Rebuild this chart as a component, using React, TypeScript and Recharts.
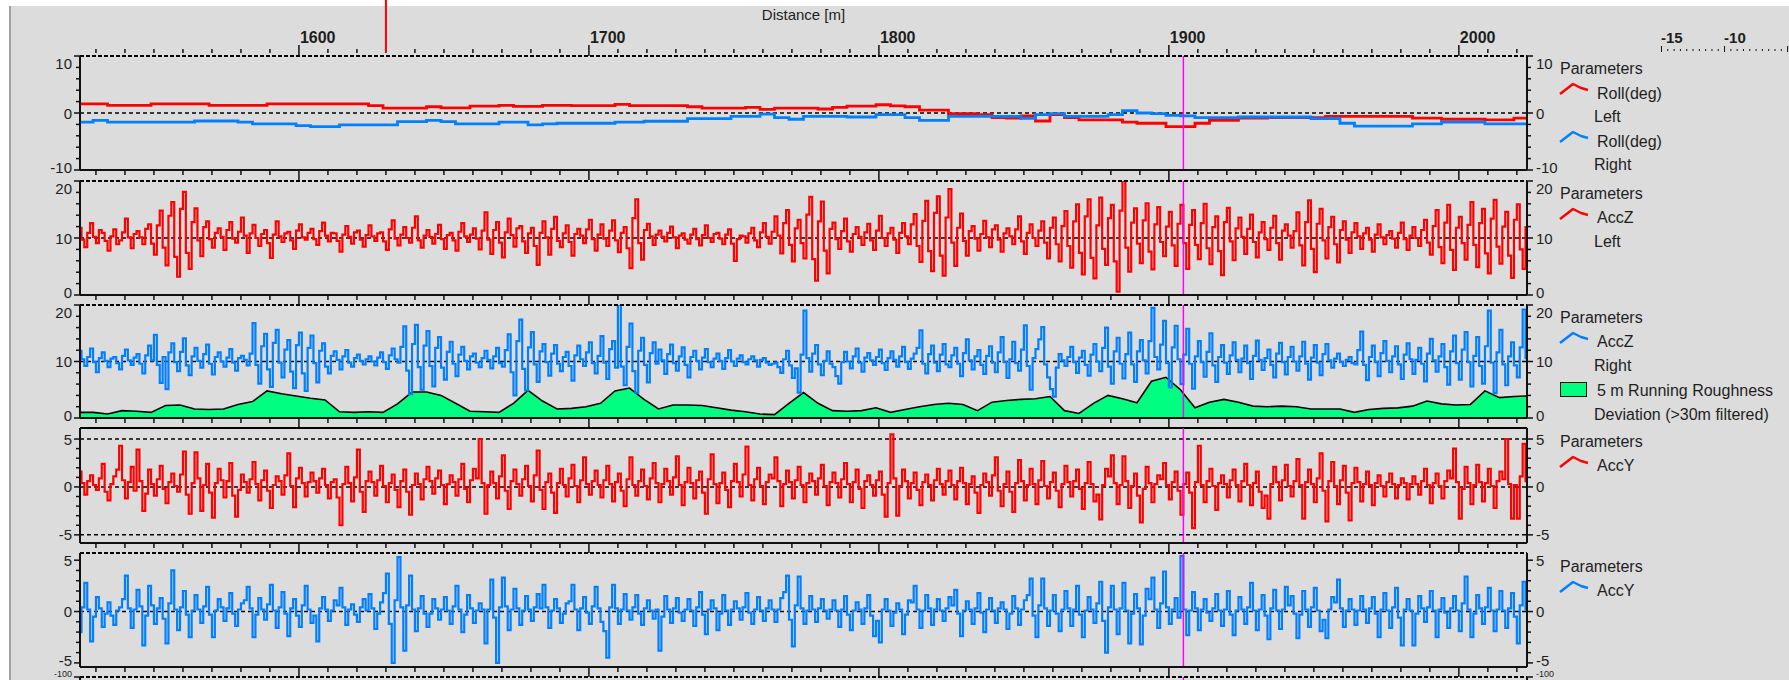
import React from 'react';
import { Area, ComposedChart, Line, ReferenceLine, XAxis, YAxis } from 'recharts';

const W = 1789;
const H = 680;
const PLOT_LEFT = 80;
const PLOT_RIGHT = 1527;
const FONT = '"Liberation Sans", Arial, sans-serif';
const BG = '#dcdcdc';
const AXIS = '#111';
const TEXT = '#1e1e1e';
const RED = '#ff0000';
const BLUE = '#0080ff';
const GREEN = '#00ff80';
const MAGENTA = '#ff00ff';

// sampling of the exported series along the track (m)
const SMOOTH_START = 1524;
const SMOOTH_STEP = 5;
const NOISE_START = 1524;
const NOISE_STEP = 1;

const X_DOMAIN: [number, number] = [1524.5, 2023.5];
const X_TICKS = [1530, 1540, 1550, 1560, 1570, 1580, 1590, 1600, 1610, 1620, 1630, 1640, 1650, 1660, 1670, 1680, 1690,
  1700, 1710, 1720, 1730, 1740, 1750, 1760, 1770, 1780, 1790, 1800, 1810, 1820, 1830, 1840, 1850, 1860, 1870, 1880,
  1890, 1900, 1910, 1920, 1930, 1940, 1950, 1960, 1970, 1980, 1990, 2000, 2010, 2020];
const X_LABELS = [1600, 1700, 1800, 1900, 2000];
const TOP_CURSOR = 1630;
const MAIN_CURSOR = 1905;

const RULER_TICKS = [-15, -14.5, -14, -13.5, -13, -12.5, -12, -11.5, -11, -10.5, -10, -9.5, -9, -8.5, -8, -7.5, -7,
  -6.5, -6, -5.5, -5];
const RULER_LABELS = [-15, -10];

const ROLL_TICKS = [-10, -8, -6, -4, -2, 0, 2, 4, 6, 8, 10];
const ROLL_LABELS = [-10, 0, 10];
const ACCZ_TICKS = [0, 2, 4, 6, 8, 10, 12, 14, 16, 18, 20];
const ACCZ_LABELS = [0, 10, 20];
const ACCY_TICKS = [-5, -4, -3, -2, -1, 0, 1, 2, 3, 4, 5];
const ACCY_LABELS = [-5, 0, 5];
const NEXT_TICKS = [-100];

// Roll (deg), every 5 m
const rollLeft = [
  1.6, 1.6, 1.35, 1.35, 1.35, 1.6, 1.6, 1.6, 1.6, 1.35,
  1.35, 1.35, 1.35, 1.6, 1.6, 1.6, 1.6, 1.6, 1.6, 1.6,
  1.3, 0.85, 0.85, 0.85, 1.1, 0.9, 0.9, 1.2, 1.2, 1.35,
  1.15, 1.15, 1.35, 1.35, 1.3, 1.3, 1.3, 1.5, 1.3, 1.3,
  1.3, 1.3, 1.1, 0.85, 0.85, 0.85, 1.0, 0.65, 0.85, 0.85,
  0.85, 0.7, 1.0, 1.2, 1.2, 1.45, 1.25, 1.1, 0.5, 0.5,
  -0.1, -0.1, -0.3, -0.8, -0.9, -0.5, -1.4, -0.3, -0.8, -1.2,
  -1.2, -1.2, -1.6, -1.8, -1.8, -2.4, -2.4, -1.8, -1.3, -1.3,
  -0.9, -0.9, -0.8, -0.8, -0.8, -0.8, -0.6, -0.6, -0.6, -0.6,
  -0.6, -0.6, -0.9, -0.9, -1.1, -1.1, -1.1, -1.2, -1.2, -0.9,
  -0.9,
];
const rollRight = [
  -1.6, -1.3, -1.6, -1.6, -1.6, -1.6, -1.6, -1.6, -1.4, -1.4,
  -1.4, -1.6, -1.9, -1.9, -1.9, -2.2, -2.4, -2.4, -2.1, -2.1,
  -2.1, -2.1, -1.5, -1.5, -1.3, -1.5, -1.9, -1.9, -1.9, -1.6,
  -1.6, -2.1, -1.9, -1.8, -1.8, -1.8, -1.8, -1.6, -1.6, -1.45,
  -1.45, -1.45, -1.0, -1.0, -1.0, -0.6, -0.6, -0.2, -0.8, -1.1,
  -0.6, -0.6, -0.6, -0.7, -0.7, -0.3, -0.3, -0.8, -1.3, -1.3,
  -0.6, -0.6, -0.6, -0.6, -0.6, -0.95, -0.3, -0.1, -0.6, -0.6,
  -0.6, -0.3, 0.4, 0.0, -0.1, -0.4, -0.5, -0.8, -0.8, -0.8,
  -0.7, -0.7, -0.7, -0.7, -0.7, -1.0, -1.0, -1.8, -2.3, -2.3,
  -2.3, -2.3, -1.9, -1.9, -1.6, -1.6, -1.6, -1.9, -1.9, -1.9,
  -1.9,
];

// AccZ left, every 1 m (20 m per row)
const accZLeft = [
  11.8, 9.7, 8.4, 10.9, 12.6, 10.2, 9.1, 11.4, 10.9, 9.5, 7.8, 10.3, 11.5, 8.9, 9.6, 11.0, 13.4, 10.1, 8.2, 10.7,
  11.2, 10.1, 8.9, 11.6, 12.4, 9.0, 7.1, 12.2, 14.8, 8.3, 5.2, 13.9, 16.3, 6.7, 3.2, 15.1, 18.1, 7.4, 4.6, 12.8,
  15.2, 9.6, 6.8, 11.9, 12.9, 9.8, 8.3, 10.9, 11.7, 10.2, 7.9, 11.4, 12.8, 9.9, 9.2, 11.1, 13.6, 10.4, 7.4, 10.8,
  12.3, 10.0, 8.6, 10.7, 11.4, 9.1, 6.5, 10.6, 12.9, 10.3, 9.3, 10.8, 11.1, 9.6, 8.1, 11.3, 12.4, 10.1, 9.7, 10.9,
  11.6, 9.8, 8.8, 11.2, 12.7, 10.4, 9.4, 10.9, 10.8, 9.5, 7.6, 10.6, 12.1, 10.2, 9.0, 11.0, 11.3, 9.7, 8.5, 10.5,
  12.2, 10.3, 9.5, 10.8, 11.0, 9.4, 7.9, 11.5, 13.1, 9.9, 8.7, 10.6, 11.9, 10.0, 9.2, 11.8, 13.8, 9.6, 8.3, 10.4,
  11.4, 10.2, 9.0, 10.7, 12.3, 9.8, 8.1, 10.5, 10.9, 9.6, 7.8, 11.1, 12.6, 10.3, 9.3, 10.6, 11.7, 9.9, 8.0, 11.3,
  14.5, 9.7, 7.2, 11.4, 12.8, 9.2, 6.6, 11.0, 13.4, 10.5, 8.5, 11.7, 12.1, 9.4, 7.4, 10.8, 11.8, 8.6, 5.3, 10.9,
  12.9, 10.1, 7.1, 11.6, 13.7, 9.5, 8.4, 10.8, 12.2, 9.3, 6.9, 10.7, 11.6, 10.4, 9.1, 11.5, 13.2, 9.8, 7.8, 10.6,
  12.4, 9.9, 8.6, 11.3, 13.1, 9.6, 7.5, 10.9, 11.9, 8.2, 4.7, 13.5, 16.8, 9.1, 6.2, 11.4, 12.5, 10.3, 8.8, 10.6,
  11.3, 10.2, 9.4, 10.9, 12.0, 10.1, 8.2, 10.4, 10.8, 9.7, 9.0, 10.6, 11.6, 9.8, 8.7, 10.5, 12.2, 10.0, 9.3, 10.7,
  10.9, 9.9, 8.9, 10.6, 11.5, 9.0, 6.0, 9.8, 10.4, 10.3, 9.2, 10.8, 11.8, 9.6, 8.4, 11.0, 12.6, 10.2, 9.0, 11.1,
  13.8, 10.4, 7.3, 12.6, 14.9, 8.8, 5.9, 11.7, 13.2, 9.1, 6.4, 14.1, 17.2, 6.3, 2.5, 12.9, 16.4, 7.8, 3.8, 11.6,
  12.7, 9.8, 8.1, 11.2, 13.4, 9.4, 7.6, 10.7, 11.9, 10.2, 8.8, 11.0, 12.5, 9.6, 7.9, 11.3, 13.9, 10.0, 8.6, 10.8,
  11.8, 9.7, 7.4, 10.9, 12.6, 10.3, 8.9, 12.4, 14.2, 8.6, 5.8, 13.0, 16.5, 7.7, 4.2, 14.4, 17.3, 6.9, 3.4, 13.6,
  18.6, 9.2, 5.1, 11.8, 14.3, 9.5, 6.9, 11.2, 12.1, 9.9, 7.8, 10.7, 13.0, 10.1, 8.4, 11.5, 12.2, 9.7, 7.6, 10.8,
  11.7, 10.3, 8.9, 11.5, 13.8, 9.4, 7.2, 10.9, 12.4, 10.0, 8.6, 11.3, 12.9, 9.2, 6.4, 11.8, 13.6, 8.9, 5.9, 12.1,
  14.7, 8.6, 4.8, 12.9, 15.9, 7.4, 3.6, 13.8, 16.8, 6.5, 2.9, 12.2, 17.1, 8.1, 5.3, 13.5, 15.8, 5.9, 0.6, 14.8,
  20.0, 8.3, 4.1, 12.7, 15.2, 9.0, 5.6, 13.1, 16.1, 7.6, 4.5, 12.4, 15.4, 9.3, 6.8, 12.0, 14.6, 8.7, 5.1, 12.5,
  15.8, 9.1, 4.6, 12.3, 14.9, 8.8, 6.3, 12.6, 16.0, 8.2, 5.4, 11.9, 13.8, 7.7, 3.5, 12.8, 15.3, 9.4, 6.1, 11.7,
  13.6, 10.2, 7.2, 11.6, 14.1, 9.3, 6.6, 11.0, 12.8, 9.8, 7.9, 11.8, 13.9, 9.1, 6.2, 11.3, 12.4, 10.4, 8.3, 11.2,
  14.5, 8.7, 5.2, 12.8, 16.6, 8.1, 4.0, 12.5, 15.1, 9.6, 6.4, 11.9, 13.7, 8.9, 5.7, 11.4, 12.9, 9.7, 7.4, 11.0,
  12.6, 10.3, 8.1, 10.8, 11.8, 9.7, 7.6, 10.6, 12.4, 10.1, 8.9, 10.5, 11.2, 9.9, 8.3, 10.9, 12.7, 9.8, 7.9, 10.4,
  11.9, 10.0, 8.6, 11.4, 13.2, 9.2, 7.1, 12.1, 14.9, 8.4, 5.6, 12.7, 15.8, 7.9, 4.4, 11.8, 13.7, 9.1, 6.2, 12.3,
  16.3, 8.8, 4.9, 12.6, 15.1, 7.3, 3.8, 13.4, 16.7, 8.5, 5.5, 12.0, 14.6, 6.9, 3.0, 13.2, 15.9, 8.0, 4.6, 11.9,
  13.4,
];

// AccZ right, every 1 m
const accZRight = [
  11.9, 10.4, 9.2, 10.8, 12.3, 9.9, 8.1, 10.6, 11.6, 10.1, 9.0, 10.5, 10.8, 9.7, 8.6, 11.0, 12.1, 10.2, 9.4, 10.7,
  11.3, 9.6, 7.9, 11.1, 12.8, 10.2, 14.7, 9.4, 6.2, 10.8, 5.1, 11.6, 13.2, 9.9, 8.3, 11.7, 14.1, 9.3, 7.6, 10.9,
  12.4, 10.1, 8.9, 11.3, 13.0, 9.6, 7.7, 10.8, 11.6, 10.0, 9.1, 10.7, 12.2, 9.8, 8.4, 10.6, 11.0, 10.3, 9.3, 11.4,
  16.8, 9.4, 6.1, 12.7, 14.9, 8.6, 5.5, 13.3, 15.6, 9.8, 7.2, 12.1, 13.8, 8.2, 5.3, 12.9, 15.1, 7.9, 4.8, 12.4,
  14.6, 9.7, 6.3, 11.9, 13.2, 9.1, 7.9, 11.0, 11.8, 10.3, 8.6, 10.9, 12.0, 9.8, 9.1, 10.6, 11.2, 10.1, 9.5, 10.4,
  10.9, 10.0, 9.3, 10.7, 11.6, 9.9, 8.7, 11.1, 12.3, 10.4, 9.8, 12.6, 16.2, 8.4, 4.2, 13.1, 16.5, 9.0, 5.0, 12.8,
  15.4, 9.2, 5.6, 12.4, 14.3, 8.9, 6.8, 11.7, 13.5, 9.6, 7.4, 11.2, 12.6, 10.1, 8.6, 10.9, 11.4, 9.8, 9.0, 10.6,
  11.9, 10.3, 8.8, 10.9, 12.4, 9.7, 9.1, 12.0, 14.8, 8.1, 4.0, 13.6, 17.4, 8.7, 4.9, 12.5, 15.2, 9.5, 6.4, 11.8,
  13.1, 9.9, 7.5, 11.4, 12.9, 9.6, 8.3, 10.8, 11.7, 9.2, 6.6, 11.1, 12.8, 10.4, 9.2, 11.6, 13.4, 9.7, 7.9, 11.0,
  14.5, 9.8, 6.9, 12.2, 13.6, 8.9, 20.0, 9.1, 5.8, 12.6, 16.7, 8.3, 4.5, 11.9, 14.2, 9.4, 6.3, 11.5, 13.4, 9.6,
  12.1, 10.2, 7.8, 11.3, 13.0, 9.7, 8.4, 10.9, 12.5, 9.4, 7.2, 10.8, 11.9, 10.1, 8.6, 10.7, 12.2, 9.9, 9.0, 10.5,
  11.4, 10.1, 8.7, 10.6, 12.0, 10.0, 9.2, 10.5, 11.1, 9.9, 9.5, 10.4, 10.9, 10.2, 9.1, 10.3, 10.6, 9.8, 9.4, 9.6,
  9.8, 9.0, 8.0, 10.4, 11.9, 9.3, 7.1, 8.8, 4.5, 11.2, 19.0, 10.6, 8.2, 11.4, 12.9, 9.5, 7.6, 10.1, 11.8, 9.6,
  9.0, 7.4, 6.1, 9.9, 11.7, 10.0, 8.8, 10.9, 12.3, 9.8, 8.2, 10.7, 11.5, 10.2, 9.4, 10.8, 12.1, 9.7, 8.5, 10.6,
  11.8, 10.3, 9.1, 10.9, 12.6, 9.9, 8.7, 10.5, 11.4, 12.4, 15.5, 9.6, 7.9, 11.3, 12.8, 9.8, 8.3, 11.2, 13.1, 9.5,
  9.0, 11.1, 12.4, 9.6, 7.4, 11.5, 13.9, 10.2, 8.6, 10.9, 12.0, 9.4, 7.8, 11.0, 12.7, 9.8, 8.1, 11.6, 14.3, 9.9,
  7.1, 10.4, 13.5, 9.7, 8.4, 12.1, 16.4, 9.2, 5.0, 10.6, 12.2, 13.9, 16.1, 9.5, 7.2, 5.1, 3.8, 8.9, 11.3, 10.2,
  9.2, 10.8, 12.6, 9.9, 8.0, 10.7, 11.9, 9.4, 7.5, 11.2, 13.1, 10.0, 8.3, 12.4, 16.0, 9.1, 6.1, 11.8, 14.2, 9.6,
  7.0, 11.3, 15.1, 9.5, 6.4, 11.8, 13.8, 10.2, 7.9, 13.6, 19.5, 10.8, 8.6, 13.0, 17.2, 9.7, 5.4, 12.5, 16.3, 10.4,
  6.0, 11.2, 15.8, 9.6, 5.2, 10.9, 13.6, 9.9, 7.3, 11.7, 15.0, 9.3, 6.4, 10.8, 12.9, 9.8, 7.8, 11.1, 13.4, 10.3,
  8.1, 10.5, 12.8, 9.7, 6.9, 11.0, 13.7, 10.3, 8.5, 10.6, 12.1, 9.4, 7.2, 11.4, 13.3, 9.9, 7.7, 10.8, 12.6, 10.0,
  8.4, 10.9, 13.5, 9.6, 6.8, 10.7, 12.9, 9.8, 7.6, 11.3, 13.1, 10.2, 8.9, 10.5, 11.4, 9.9, 9.2, 10.3, 10.8, 9.7,
  9.5, 12.0, 15.3, 9.4, 6.7, 10.8, 12.8, 9.9, 7.4, 11.5, 13.6, 10.1, 8.1, 10.9, 12.7, 9.5, 6.9, 11.2, 13.2, 10.4,
  7.8, 10.3, 12.4, 9.6, 6.5, 11.4, 14.0, 10.2, 8.2, 10.9, 13.1, 9.0, 5.9, 11.8, 14.6, 9.7, 6.8, 12.1, 15.2, 9.9,
  5.6, 11.0, 14.3, 9.2, 6.1, 12.7, 19.0, 9.8, 4.4, 11.6, 15.6, 9.5, 5.8, 10.9, 13.4, 9.3, 7.2, 12.5, 19.2, 10.6,
  5.6,
];

// 5 m running roughness deviation, every 5 m
const roughness = [
  1.0, 1.0, 0.7, 1.3, 1.2, 1.0, 2.2, 2.3, 1.6, 1.5,
  1.6, 2.4, 2.9, 4.8, 4.3, 3.9, 3.5, 3.2, 1.1, 1.0,
  1.1, 1.0, 2.5, 4.6, 4.6, 4.0, 2.6, 1.2, 1.1, 1.0,
  2.6, 4.9, 3.0, 1.6, 1.7, 2.0, 2.6, 4.8, 5.3, 3.3,
  1.6, 2.3, 2.3, 2.2, 1.8, 1.4, 1.1, 0.7, 0.6, 2.6,
  4.5, 2.6, 1.3, 1.2, 1.3, 1.8, 1.0, 1.5, 2.0, 2.4,
  2.6, 2.4, 1.3, 2.8, 3.1, 3.3, 3.4, 3.8, 1.3, 0.8,
  2.6, 4.0, 3.4, 2.7, 6.5, 7.2, 5.0, 1.8, 2.8, 3.3,
  2.8, 2.1, 2.0, 2.1, 2.0, 1.6, 1.6, 1.6, 1.0, 1.5,
  1.7, 1.8, 2.1, 3.0, 2.5, 2.3, 2.4, 4.8, 3.6, 3.8,
  3.9,
];

// AccY left, every 1 m
const accYLeft = [
  1.6, 0.4, -0.8, 0.6, 1.2, 0.2, -0.3, 0.9, 2.4, -0.5, -1.4, 0.3, 1.1, 1.8, 4.3, 0.7, -1.2, 0.5, 2.1, -0.4,
  3.9, 0.6, -2.5, -0.7, 1.8, 0.3, -0.9, 0.8, 2.2, -0.2, -1.7, 0.5, 1.4, 0.1, -0.5, 1.3, 3.7, -0.8, -2.8, 0.4,
  3.6, 0.9, -2.5, 0.2, 2.4, -0.6, -3.2, 0.4, 1.9, 0.7, -1.1, 0.6, 2.5, -0.9, -3.1, -0.3, 1.3, 0.5, -0.6, 0.8,
  2.6, 0.3, -1.4, 0.7, 1.7, -0.4, -2.2, 0.2, 1.1, 0.6, -0.8, 1.2, 3.5, 0.1, -2.1, 0.9, 2.0, 0.4, -1.0, 0.5,
  1.5, 0.6, -0.6, 0.9, 1.9, 0.2, -1.2, 0.5, 0.8, -1.1, -4.0, 0.3, 2.1, 0.4, -1.5, 1.0, 3.9, -0.5, -2.6, 0.6,
  1.6, 0.5, -0.9, 0.7, 2.2, 0.1, -1.6, 0.4, 1.3, -0.3, -2.1, 0.6, 1.8, -0.5, -2.9, 0.2, 1.4, 0.3, -1.3, 0.8,
  2.1, 0.6, -0.7, 0.9, 1.7, 0.2, -1.8, 0.3, 1.2, 0.5, -0.9, 0.8, 2.4, -0.2, -1.6, 0.7, 1.9, 0.9, 5.0, 0.4,
  -2.8, 0.2, 1.6, 0.4, -1.2, 1.1, 3.3, -0.4, -2.3, 0.6, 1.8, 0.3, -0.9, 0.8, 2.2, 0.1, -1.5, 1.2, 3.8, -0.3,
  -2.3, 0.5, 1.4, -0.6, -2.7, 0.4, 1.9, 0.2, -1.0, 0.9, 2.3, 0.1, -1.6, 0.7, 3.1, 0.3, -0.8, 0.6, 1.7, 0.2,
  -1.1, 0.7, 2.2, 0.3, -1.5, 0.5, 1.4, -0.4, -2.0, 0.8, 3.1, 0.2, -0.9, 0.6, 1.8, 0.1, -1.3, 0.9, 2.5, 0.4,
  -1.6, 0.3, 1.9, 0.6, -0.8, 1.0, 3.2, 0.2, -1.9, 0.5, 2.0, 0.4, -1.2, 0.7, 1.6, -0.6, -2.8, 0.8, 3.4, 0.3,
  -1.7, 0.4, 1.5, -0.3, -2.1, 0.6, 2.4, 0.5, -1.0, 1.3, 4.2, 0.2, -1.4, 0.8, 2.0, 0.1, -1.8, 0.5, 1.3, 0.9,
  3.1, 0.6, -2.0, 0.3, 1.7, 0.5, -1.2, 0.7, 2.1, 0.2, -1.6, 0.4, 1.4, 0.6, -0.8, 0.9, 2.3, 0.1, -1.9, 0.5,
  1.5, 0.4, -1.1, 0.8, 2.5, 0.3, -1.6, 0.5, 1.8, -0.2, -2.2, 0.6, 1.2, 0.2, -0.9, 0.7, 1.6, -0.8, -3.1, 0.4,
  5.5, 0.9, -3.0, 0.1, 1.8, 0.6, -1.2, 0.4, 1.5, -0.3, -1.9, 0.5, 1.3, 0.2, -1.4, 0.7, 1.9, 0.3, -0.8, 0.6,
  1.7, 0.2, -1.3, 0.6, 2.0, 0.4, -1.8, 0.3, 1.1, -0.6, -2.7, 0.2, 1.4, 0.5, -0.9, 1.2, 3.1, -0.4, -2.0, 0.3,
  1.6, -0.5, -2.6, 0.4, 2.8, 0.6, -1.4, 0.2, 1.9, 0.3, -1.8, 0.7, 2.7, 0.1, -1.2, 0.5, 1.5, -0.4, -2.1, 0.3,
  2.2, 0.5, -1.0, 0.6, 1.8, -0.2, -2.3, 0.4, 2.6, 0.3, -1.5, -0.8, -3.4, 0.2, 1.9, 1.1, 3.3, 0.4, -1.8, 0.2,
  3.2, 0.6, -2.2, 0.1, 1.4, -0.9, -3.7, -0.2, 2.1, 0.4, -1.6, 0.3, 1.2, 0.8, 2.5, 0.2, -1.3, 0.5, 1.6, -0.4,
  -2.9, 0.3, 1.5, -0.6, -4.3, 0.5, 4.3, 0.2, -1.6, 0.6, 1.9, 0.1, -2.4, 0.4, 1.2, 0.3, -1.1, 0.7, 1.8, 0.2,
  -1.5, 0.6, 2.4, 0.2, -1.9, 0.4, 1.6, -0.5, -2.2, -0.9, -3.3, 0.3, 2.1, 0.5, -1.4, 0.7, 2.3, 0.1, -1.0, 0.6,
  2.9, 0.2, -3.3, 0.5, 1.8, 0.3, -1.6, 0.9, 3.5, -0.4, -3.6, 0.6, 2.6, 0.1, -1.8, 0.7, 2.2, -0.6, -3.5, 0.4,
  2.0, 0.5, -1.5, 0.3, 1.6, 0.2, -1.9, 0.4, 1.2, 0.1, -1.0, 0.5, 1.4, 0.3, -1.2, 0.2, 0.9, 0.4, -1.3, 0.3,
  1.1, 0.3, -0.8, 0.6, 1.9, 0.2, -1.7, 0.4, 1.4, 0.1, -1.2, 0.6, 1.7, 0.9, 4.0, 0.5, -3.3, -0.2, 2.1, 0.4,
  -1.8, 0.2, 2.3, 0.5, -1.5, 0.4, 1.9, 0.1, -2.2, 0.6, 1.6, 0.8, 5.0, 0.3, -3.3, 0.2, -3.3, 1.1, 4.5, 0.6,
  1.0,
];

// AccY right, every 1 m
const accYRight = [
  -2.0, 0.4, 2.8, 0.2, -2.9, -0.5, 1.4, 0.3, -1.5, -0.2, 0.9, -0.4, -1.3, 0.1, 0.4, 1.2, 3.5, 0.3, -1.6, 0.2,
  2.1, 0.5, -3.3, -0.4, 2.5, 0.6, -1.2, 0.3, 1.3, -0.7, -3.1, 0.8, 4.0, 0.2, -1.8, 0.4, 2.0, -0.3, -2.5, 0.1,
  1.6, 0.2, -1.1, 0.5, 2.4, -0.3, -2.5, 0.1, 1.2, 0.4, -0.9, 0.3, 1.8, -0.2, -1.4, 0.2, 0.8, 1.1, 2.4, 0.3,
  -2.5, -0.3, 1.3, 0.2, -0.8, 0.7, 2.6, 0.1, -1.6, 0.4, 1.9, -0.2, -2.4, 0.3, 1.2, -0.4, -1.5, 0.6, 2.5, 0.2,
  -1.1, -0.4, -2.9, 0.3, 1.4, 0.2, -0.9, 0.1, 1.1, 0.6, 2.3, 0.4, -1.3, 0.2, 0.7, -0.3, -1.0, 0.4, 1.2, 0.1,
  1.7, 0.3, -1.7, -0.2, 0.9, 1.8, 3.7, -1.2, -5.0, 1.1, 5.3, 0.4, -3.8, 0.6, 3.5, 0.2, -1.9, 0.3, 1.5, -0.2,
  -1.5, -0.2, 1.2, 0.3, -0.8, 0.2, 1.4, 0.1, -1.2, 0.5, 2.5, 0.2, -2.0, -0.3, 1.6, 0.3, -1.1, 0.1, 0.8, 0.2,
  -3.1, 0.2, 3.1, -0.6, -5.0, 0.4, 3.3, 0.5, -1.8, 0.2, 2.2, 0.3, -1.3, 0.1, 1.5, 0.2, -0.9, 0.4, 1.7, 0.3,
  2.6, 0.4, -1.6, 0.1, 1.2, 0.3, -1.1, -0.2, 0.8, 1.0, 2.6, 0.2, -1.8, 0.3, 1.4, -0.1, -1.2, 0.5, 2.4, 0.3,
  -1.0, -1.9, -4.5, 0.4, 2.6, 0.3, -1.2, 0.2, 1.7, 0.1, -0.8, 0.4, 1.6, -0.2, -1.3, 0.3, 1.1, 0.1, -0.7, 0.2,
  -3.8, -0.5, 1.5, 0.2, -1.1, 0.3, 1.3, -0.1, -0.9, 0.2, 1.2, 0.1, -1.4, 0.4, 1.9, -0.3, -2.2, 0.2, 1.1, 0.3,
  -1.8, -0.2, 1.6, 0.1, -1.3, 0.2, 1.0, 0.3, -0.8, 0.4, 1.8, -0.1, -1.2, 0.2, 1.4, 0.1, -0.9, 0.3, 1.1, 0.2,
  -1.0, 0.2, 1.3, 1.9, 3.5, -0.8, -3.4, 0.6, 3.4, 0.3, -1.2, 0.1, 1.5, 0.2, -1.0, 0.3, 1.2, 0.1, -0.7, 0.2,
  1.1, 0.1, -1.5, 0.2, 1.5, -0.3, -1.8, 0.1, 0.9, 0.2, -1.2, 0.3, 1.6, -0.4, -2.4, -0.9, -3.0, 0.2, 1.2, 0.1,
  -1.4, -0.1, 0.8, 0.2, -2.2, -0.3, 1.1, 0.9, 2.5, 0.2, -1.6, 0.1, 1.6, 0.3, -1.3, 0.2, 1.2, 0.1, -0.9, 0.3,
  1.4, 0.6, 2.1, -0.2, -2.4, 0.1, 1.0, 0.2, -1.2, 0.3, 1.8, -0.1, -2.0, 0.2, 1.3, 0.1, -1.1, 0.3, 0.9, 0.2,
  -1.7, -0.2, 1.5, 0.3, -1.3, 0.2, 1.1, 1.6, 3.2, -0.4, -2.5, 0.6, 3.2, 0.3, -1.4, 0.1, 1.6, -0.2, -1.9, 0.2,
  2.0, 0.3, -1.4, 0.2, 2.5, -0.3, -2.5, 0.1, 1.4, 0.2, -1.1, 0.8, 2.9, -0.9, -4.0, 0.4, 2.5, 0.2, -2.2, 0.3,
  2.8, 0.1, -3.1, -0.2, 1.7, 0.3, -3.2, -0.4, 2.2, 1.2, 3.3, 0.2, -1.6, 0.8, 3.9, 0.4, -1.2, 0.2, 1.3, -0.6,
  5.4, 0.2, -2.3, 0.1, 1.9, 0.3, -1.8, 0.2, 1.2, -0.1, -0.9, 0.3, 1.7, 0.1, -1.4, 0.2, 2.0, -0.3, -2.3, 0.1,
  1.4, 0.2, -1.2, 0.4, 2.8, 0.1, -1.8, 0.2, 1.6, -0.4, -2.7, 0.3, 2.1, 0.1, -1.7, 0.2, 2.4, 0.6, 1.5, -0.2,
  -2.6, -0.3, 2.0, 0.2, -1.5, 0.4, 2.3, 0.1, -1.9, -0.8, -2.6, 0.2, 1.4, 0.9, 3.1, 0.3, -1.5, 0.1, 1.2, 0.2,
  -1.3, 0.1, 1.5, 0.2, -1.1, 0.3, 1.4, -0.2, -2.5, 0.2, 1.8, 0.1, -1.6, 0.4, 2.3, -0.6, -3.3, 0.2, 1.2, 0.1,
  -3.3, -0.2, 1.5, 0.3, -1.0, 0.4, 2.0, 0.1, -2.5, 0.2, 1.3, -0.1, -1.6, 0.3, 1.5, 0.1, -1.9, 0.8, 3.4, 0.2,
  -2.5, -0.2, 1.6, 0.3, -1.2, 0.4, 2.3, 0.1, -1.9, 0.2, 2.0, 0.1, -1.6, 0.3, 1.8, -0.5, -3.1, 0.6, 2.9, 0.2,
  -1.5,
];

const rollRows = rollLeft.map((v, i) => ({ d: SMOOTH_START + i * SMOOTH_STEP, left: v, right: rollRight[i] }));
const accZLeftRows = accZLeft.map((v, i) => ({ d: NOISE_START + i * NOISE_STEP, v }));
const accZRightRows = [
  ...accZRight.map((v, i) => ({ d: NOISE_START + i * NOISE_STEP, acc: v })),
  ...roughness.map((v, i) => ({ d: SMOOTH_START + i * SMOOTH_STEP, rough: v })),
].sort((a, b) => a.d - b.d);
const accYLeftRows = accYLeft.map((v, i) => ({ d: NOISE_START + i * NOISE_STEP, v }));
const accYRightRows = accYRight.map((v, i) => ({ d: NOISE_START + i * NOISE_STEP, v }));
const rulerRows = RULER_TICKS.map((t) => ({ t }));

type PanelProps = {
  top: number;
  height: number;
  domain: [number, number];
  yTicks: number[];
  yLabels: number[];
  data: any[];
  dashed?: number[];
  topDashed?: boolean;
  topAxis?: boolean;
  pad?: number;
  labelTop?: number;
  labelBottom?: number;
  labelShift?: number;
  labelSize?: number;
  children?: React.ReactNode;
};

function Panel({
  top, height, domain, yTicks, yLabels, data, dashed = [], topDashed = true, topAxis = false, pad = 2,
  labelTop = 7, labelBottom = 3, labelShift = 0, labelSize = 15, children,
}: PanelProps) {
  const head = topAxis ? 50 : pad;
  const plotBottom = head + height;
  const labelY = (y: number) => Math.min(Math.max(y + labelShift, head + labelTop), plotBottom - labelBottom);

  const leftTick = (p: any) => {
    const v = p.payload.value;
    const major = yLabels.includes(v);
    return (
      <g>
        <line x1={p.x - (major ? 6 : 4)} x2={p.x} y1={p.y} y2={p.y} stroke={AXIS} strokeWidth={1.5} />
        {major && (
          <text x={p.x - 8} y={labelY(p.y)} textAnchor="end" dominantBaseline="central" fontSize={labelSize} fontFamily={FONT} fill={TEXT}>
            {v}
          </text>
        )}
      </g>
    );
  };
  const rightTick = (p: any) => {
    const v = p.payload.value;
    const major = yLabels.includes(v);
    return (
      <g>
        <line x1={p.x} x2={p.x + (major ? 6 : 4)} y1={p.y} y2={p.y} stroke={AXIS} strokeWidth={1.5} />
        {major && (
          <text x={p.x + 9} y={labelY(p.y)} textAnchor="start" dominantBaseline="central" fontSize={labelSize} fontFamily={FONT} fill={TEXT}>
            {v}
          </text>
        )}
      </g>
    );
  };
  const bottomTick = (p: any) => {
    const major = p.payload.value % 100 === 0;
    return <line x1={p.x} x2={p.x} y1={p.y} y2={p.y + (major ? 10 : 5)} stroke={AXIS} strokeWidth={1.5} />;
  };
  const topTick = (p: any) => {
    const v = p.payload.value;
    const major = X_LABELS.includes(v);
    return (
      <g>
        <line x1={p.x} x2={p.x} y1={major ? p.y : p.y - 3} y2={p.y - (major ? 11 : 7)} stroke={AXIS} strokeWidth={1.5} />
        {major && (
          <text x={p.x + 1} y={p.y - 13} textAnchor="start" fontSize={16} fontWeight="bold" fontFamily={FONT} fill={TEXT}>
            {v}
          </text>
        )}
      </g>
    );
  };

  return (
    <div style={{ position: 'absolute', left: 0, top: top - head }}>
      <ComposedChart
        width={W}
        height={head + height + 12}
        data={data}
        margin={{ top: topAxis ? 0 : head, right: W - PLOT_RIGHT - 40, bottom: 0, left: PLOT_LEFT - 50 }}
      >
        <XAxis
          dataKey="d"
          type="number"
          domain={X_DOMAIN}
          allowDataOverflow
          ticks={X_TICKS}
          interval={0}
          height={12}
          tickSize={0}
          tickMargin={0}
          tickLine={false}
          axisLine={{ stroke: AXIS, strokeWidth: 2 }}
          tick={bottomTick}
        />
        {topAxis && (
          <XAxis
            xAxisId="top"
            orientation="top"
            dataKey="d"
            type="number"
            domain={X_DOMAIN}
            allowDataOverflow
            ticks={X_TICKS}
            interval={0}
            height={50}
            tickSize={0}
            tickMargin={0}
            tickLine={false}
            axisLine={false}
            tick={topTick}
            label={{ value: 'Distance [m]', position: 'insideTop', offset: 3, fontSize: 15, fill: TEXT, fontFamily: FONT }}
          />
        )}
        <YAxis
          yAxisId="l"
          type="number"
          domain={domain}
          allowDataOverflow
          ticks={yTicks}
          interval={0}
          width={50}
          tickSize={0}
          tickMargin={0}
          tickLine={false}
          axisLine={{ stroke: AXIS, strokeWidth: 2 }}
          tick={leftTick}
        />
        <YAxis
          yAxisId="r"
          orientation="right"
          type="number"
          domain={domain}
          allowDataOverflow
          ticks={yTicks}
          interval={0}
          width={40}
          tickSize={0}
          tickMargin={0}
          tickLine={false}
          axisLine={{ stroke: AXIS, strokeWidth: 2 }}
          tick={rightTick}
        />
        {dashed.map((v) => (
          <ReferenceLine key={v} yAxisId="l" y={v} stroke="#000" strokeWidth={1.5} strokeDasharray="4 3" />
        ))}
        {children}
        <ReferenceLine yAxisId="l" y={domain[1]} stroke="#000" strokeWidth={2} strokeDasharray={topDashed ? '4 2' : undefined} />
        <ReferenceLine yAxisId="l" x={MAIN_CURSOR} stroke={MAGENTA} strokeWidth={1.5} />
      </ComposedChart>
    </div>
  );
}

function LegendText({ x, y, children }: { x: number; y: number; children: React.ReactNode }) {
  return (
    <div style={{ position: 'absolute', left: x, top: y - 9, fontSize: 16, lineHeight: '18px', whiteSpace: 'nowrap', color: TEXT }}>
      {children}
    </div>
  );
}

function LegendLine({ y, color }: { y: number; color: string }) {
  return (
    <svg style={{ position: 'absolute', left: 1559, top: y - 7 }} width={31} height={14}>
      <polyline points="1,12 14,2 22,6 29,8" fill="none" stroke={color} strokeWidth={2.5} strokeLinejoin="round" />
    </svg>
  );
}

const rulerTick = (p: any) => {
  const v = p.payload.value;
  const major = RULER_LABELS.includes(v) || v === -5;
  return (
    <g>
      <line x1={p.x + 0.5} x2={p.x + 0.5} y1={major ? p.y : p.y - 1} y2={p.y - (major ? 6 : 3)} stroke={AXIS} strokeWidth={1} />
      {RULER_LABELS.includes(v) && (
        <text x={p.x} y={p.y - 9} textAnchor="start" fontSize={15} fontWeight="bold" fontFamily={FONT} fill={TEXT}>
          {v}
        </text>
      )}
    </g>
  );
};

export default function App() {
  return (
    <div style={{ position: 'absolute', left: 0, top: 0, width: W, height: H, overflow: 'hidden', background: '#fff', fontFamily: FONT }}>
      <div style={{ position: 'absolute', left: 9, top: 6, right: 0, bottom: 0, background: BG, borderLeft: '2px solid #a0a0a0' }} />

      <div style={{ position: 'absolute', left: 1661, top: 26 }}>
        <ComposedChart width={140} height={30} data={rulerRows} margin={{ top: 0, right: 12, bottom: 0, left: 0 }}>
          <XAxis
            dataKey="t"
            type="number"
            orientation="top"
            domain={[-15, -4.85]}
            allowDataOverflow
            ticks={RULER_TICKS}
            interval={0}
            height={26}
            tickSize={0}
            tickMargin={0}
            tickLine={false}
            axisLine={false}
            tick={rulerTick}
          />
          <YAxis type="number" domain={[0, 1]} hide />
        </ComposedChart>
      </div>

      <Panel top={56} height={114} domain={[-10, 10]} yTicks={ROLL_TICKS} yLabels={ROLL_LABELS} data={rollRows} dashed={[0]} topAxis>
        <Line yAxisId="l" dataKey="left" type="stepAfter" stroke={RED} strokeWidth={2.8} dot={false} isAnimationActive={false} />
        <Line yAxisId="l" dataKey="right" type="stepAfter" stroke={BLUE} strokeWidth={2.8} dot={false} isAnimationActive={false} />
      </Panel>

      <Panel top={181} height={114} domain={[0, 20]} yTicks={ACCZ_TICKS} yLabels={ACCZ_LABELS} data={accZLeftRows} dashed={[10]}>
        <Line yAxisId="l" dataKey="v" type="stepAfter" stroke={RED} strokeWidth={2.2} dot={false} isAnimationActive={false} />
      </Panel>

      <Panel top={305} height={113} domain={[0, 20]} yTicks={ACCZ_TICKS} yLabels={ACCZ_LABELS} data={accZRightRows} dashed={[10]}>
        <Line yAxisId="l" dataKey="acc" type="stepAfter" stroke={BLUE} strokeWidth={2.2} dot={false} connectNulls isAnimationActive={false} />
        <Area yAxisId="l" dataKey="rough" type="linear" stroke="#000" strokeWidth={1.6} fill={GREEN} fillOpacity={1} connectNulls isAnimationActive={false} />
      </Panel>

      <Panel top={428} height={115} domain={[-5.85, 6.15]} yTicks={ACCY_TICKS} yLabels={ACCY_LABELS} data={accYLeftRows} dashed={[-5, 0, 5]} topDashed={false} labelTop={0}>
        <Line yAxisId="l" dataKey="v" type="stepAfter" stroke={RED} strokeWidth={2.2} dot={false} isAnimationActive={false} />
      </Panel>

      <Panel top={553} height={114} domain={[-5.4, 5.7]} yTicks={ACCY_TICKS} yLabels={ACCY_LABELS} data={accYRightRows} dashed={[0]} labelBottom={7}>
        <Line yAxisId="l" dataKey="v" type="stepAfter" stroke={BLUE} strokeWidth={2.2} dot={false} isAnimationActive={false} />
      </Panel>

      <Panel
        top={677}
        height={114}
        domain={[-300, -100]}
        yTicks={NEXT_TICKS}
        yLabels={NEXT_TICKS}
        data={rollRows}
        pad={12}
        labelTop={-12}
        labelShift={-3.5}
        labelSize={9}
      />

      {/* cursor above the distance axis, drawn on its own scale strip */}
      <div style={{ position: 'absolute', left: 0, top: 0 }}>
        <ComposedChart width={W} height={52} data={rollRows} margin={{ top: 0, right: W - PLOT_RIGHT, bottom: 0, left: PLOT_LEFT }}>
          <XAxis dataKey="d" type="number" domain={X_DOMAIN} allowDataOverflow hide />
          <YAxis type="number" domain={[-10, 10]} allowDataOverflow hide />
          <Line dataKey="left" stroke="none" dot={false} activeDot={false} legendType="none" isAnimationActive={false} />
          <ReferenceLine x={TOP_CURSOR} stroke={RED} strokeWidth={2} ifOverflow="visible" />
        </ComposedChart>
      </div>

      <LegendText x={1560} y={69}>Parameters</LegendText>
      <LegendLine y={89} color={RED} />
      <LegendText x={1597} y={94}>Roll(deg)</LegendText>
      <LegendText x={1594} y={117}>Left</LegendText>
      <LegendLine y={137} color={BLUE} />
      <LegendText x={1597} y={142}>Roll(deg)</LegendText>
      <LegendText x={1594} y={165}>Right</LegendText>

      <LegendText x={1560} y={194}>Parameters</LegendText>
      <LegendLine y={214} color={RED} />
      <LegendText x={1597} y={218}>AccZ</LegendText>
      <LegendText x={1594} y={242}>Left</LegendText>

      <LegendText x={1560} y={318}>Parameters</LegendText>
      <LegendLine y={338} color={BLUE} />
      <LegendText x={1597} y={342}>AccZ</LegendText>
      <LegendText x={1594} y={366}>Right</LegendText>
      <div style={{ position: 'absolute', left: 1560, top: 382, width: 25, height: 13, background: GREEN, border: '1.5px solid #111' }} />
      <LegendText x={1597} y={391}>5 m Running Roughness</LegendText>
      <LegendText x={1594} y={415}>Deviation (&gt;30m filtered)</LegendText>

      <LegendText x={1560} y={442}>Parameters</LegendText>
      <LegendLine y={462} color={RED} />
      <LegendText x={1597} y={466}>AccY</LegendText>

      <LegendText x={1560} y={567}>Parameters</LegendText>
      <LegendLine y={587} color={BLUE} />
      <LegendText x={1597} y={591}>AccY</LegendText>
    </div>
  );
}
